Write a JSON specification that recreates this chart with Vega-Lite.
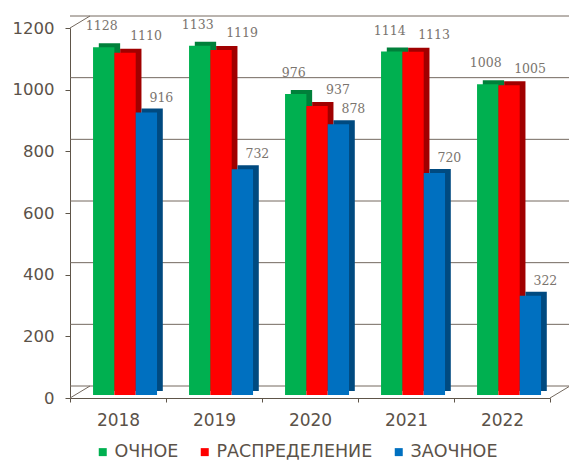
{
  "$schema": "https://vega.github.io/schema/vega-lite/v6.json",
  "width": 480,
  "height": 370,
  "autosize": {"type": "none"},
  "padding": {"left": 70, "top": 28, "right": 19, "bottom": 63},
  "background": "white",
  "config": {
    "view": {"stroke": null},
    "font": "DejaVu Sans",
    "axis": {
      "domainColor": "#5e5549",
      "tickColor": "#5e5549",
      "labelColor": "#5b5249",
      "labelFont": "DejaVu Sans",
      "grid": false
    },
    "axisX": {"labelAngle": 0, "tickBand": "extent", "tickSize": 4, "labelPadding": 10, "labelFontSize": 17},
    "axisY": {"tickSize": 5, "labelPadding": 11, "labelFontSize": 16.5},
    "legend": {"labelFont": "DejaVu Sans"}
  },
  "datasets": {
    "bars": [
      {"year": "2018", "series": "ОЧНОЕ", "value": 1128},
      {"year": "2018", "series": "РАСПРЕДЕЛЕНИЕ", "value": 1110},
      {"year": "2018", "series": "ЗАОЧНОЕ", "value": 916},
      {"year": "2019", "series": "ОЧНОЕ", "value": 1133},
      {"year": "2019", "series": "РАСПРЕДЕЛЕНИЕ", "value": 1119},
      {"year": "2019", "series": "ЗАОЧНОЕ", "value": 732},
      {"year": "2020", "series": "ОЧНОЕ", "value": 976},
      {"year": "2020", "series": "РАСПРЕДЕЛЕНИЕ", "value": 937},
      {"year": "2020", "series": "ЗАОЧНОЕ", "value": 878},
      {"year": "2021", "series": "ОЧНОЕ", "value": 1114},
      {"year": "2021", "series": "РАСПРЕДЕЛЕНИЕ", "value": 1113},
      {"year": "2021", "series": "ЗАОЧНОЕ", "value": 720},
      {"year": "2022", "series": "ОЧНОЕ", "value": 1008},
      {"year": "2022", "series": "РАСПРЕДЕЛЕНИЕ", "value": 1005},
      {"year": "2022", "series": "ЗАОЧНОЕ", "value": 322}
    ],
    "grid": [{"v": 0}, {"v": 200}, {"v": 400}, {"v": 600}, {"v": 800}, {"v": 1000}, {"v": 1200}],
    "leftEdges": [{"year": "2018", "v": 0}, {"year": "2018", "v": 1200}],
    "rightEdges": [{"year": "2022", "v": 0}]
  },
  "layer": [
    {
      "data": {"name": "grid"},
      "mark": {"type": "rule", "color": "#74695f", "strokeWidth": 1, "xOffset": 20, "yOffset": -12},
      "encoding": {
        "y": {
          "field": "v", "type": "quantitative", "title": null,
          "scale": {"domain": [0, 1200], "nice": false, "zero": true},
          "axis": {"values": [0, 200, 400, 600, 800, 1000, 1200], "format": "d"}
        }
      }
    },
    {
      "data": {"name": "leftEdges"},
      "mark": {"type": "rule", "color": "#74695f", "strokeWidth": 1, "x2Offset": 20, "y2Offset": -12},
      "encoding": {
        "x": {"field": "year", "type": "nominal", "bandPosition": 0, "title": null},
        "x2": {"field": "year", "bandPosition": 0},
        "y": {"field": "v", "type": "quantitative", "title": null, "axis": {"values": [0, 200, 400, 600, 800, 1000, 1200], "format": "d"}},
        "y2": {"field": "v"}
      }
    },
    {
      "data": {"name": "rightEdges"},
      "mark": {"type": "rule", "color": "#74695f", "strokeWidth": 1, "x2Offset": 20, "y2Offset": -12},
      "encoding": {
        "x": {"field": "year", "type": "nominal", "bandPosition": 1, "title": null},
        "x2": {"field": "year", "bandPosition": 1},
        "y": {"field": "v", "type": "quantitative", "title": null, "axis": {"values": [0, 200, 400, 600, 800, 1000, 1200], "format": "d"}},
        "y2": {"field": "v"}
      }
    },
    {
      "data": {"name": "bars"},
      "mark": {"type": "bar", "yOffset": -7},
      "encoding": {
        "x": {"field": "year", "type": "nominal", "title": null, "scale": {"paddingInner": 0, "paddingOuter": 0}},
        "xOffset": {
          "field": "series", "type": "nominal",
          "scale": {"type": "band", "domain": ["ОЧНОЕ", "РАСПРЕДЕЛЕНИЕ", "ЗАОЧНОЕ"], "paddingInner": 0, "paddingOuter": 0.75, "align": 0.9}
        },
        "y": {"field": "value", "type": "quantitative", "title": null, "axis": {"values": [0, 200, 400, 600, 800, 1000, 1200], "format": "d"}},
        "color": {
          "field": "series", "type": "nominal", "legend": null,
          "scale": {"domain": ["ОЧНОЕ", "РАСПРЕДЕЛЕНИЕ", "ЗАОЧНОЕ"], "range": ["#00803a", "#a00000", "#004a80"]}
        }
      }
    },
    {
      "data": {"name": "bars"},
      "mark": {"type": "bar", "yOffset": -3},
      "encoding": {
        "x": {"field": "year", "type": "nominal", "title": null},
        "xOffset": {
          "field": "series", "type": "nominal",
          "scale": {"type": "band", "domain": ["ОЧНОЕ", "РАСПРЕДЕЛЕНИЕ", "ЗАОЧНОЕ"], "paddingInner": 0, "paddingOuter": 0.75, "align": 0.72}
        },
        "y": {"field": "value", "type": "quantitative", "title": null, "axis": {"values": [0, 200, 400, 600, 800, 1000, 1200], "format": "d"}},
        "color": {
          "field": "series", "type": "nominal", "title": null,
          "scale": {"domain": ["ОЧНОЕ", "РАСПРЕДЕЛЕНИЕ", "ЗАОЧНОЕ"], "range": ["#00b050", "#ff0000", "#0070c0"]},
          "legend": {
            "orient": "none", "direction": "horizontal", "legendX": 24, "legendY": 415,
            "symbolType": "square", "symbolSize": 64, "symbolStrokeWidth": 0,
            "labelFontSize": 17.5, "labelColor": "#5b5249", "labelOffset": 3, "columnPadding": 17, "padding": 0
          }
        }
      }
    },
    {
      "data": {"name": "bars"},
      "transform": [{"filter": "datum.series === 'ОЧНОЕ'"}],
      "mark": {"type": "text", "font": "DejaVu Serif", "fontSize": 12.5, "color": "#7a746e", "dx": -2, "dy": -24, "baseline": "middle"},
      "encoding": {
        "x": {"field": "year", "type": "nominal", "title": null},
        "xOffset": {
          "field": "series", "type": "nominal",
          "scale": {"type": "band", "domain": ["ОЧНОЕ", "РАСПРЕДЕЛЕНИЕ", "ЗАОЧНОЕ"], "paddingInner": 0, "paddingOuter": 0.75, "align": 0.72}
        },
        "y": {"field": "value", "type": "quantitative", "title": null, "axis": {"values": [0, 200, 400, 600, 800, 1000, 1200], "format": "d"}},
        "text": {"field": "value", "type": "quantitative", "format": "d"}
      }
    },
    {
      "data": {"name": "bars"},
      "transform": [{"filter": "datum.series === 'РАСПРЕДЕЛЕНИЕ'"}],
      "mark": {"type": "text", "font": "DejaVu Serif", "fontSize": 12.5, "color": "#7a746e", "dx": 21, "dy": -19.5, "baseline": "middle"},
      "encoding": {
        "x": {"field": "year", "type": "nominal", "title": null},
        "xOffset": {
          "field": "series", "type": "nominal",
          "scale": {"type": "band", "domain": ["ОЧНОЕ", "РАСПРЕДЕЛЕНИЕ", "ЗАОЧНОЕ"], "paddingInner": 0, "paddingOuter": 0.75, "align": 0.72}
        },
        "y": {"field": "value", "type": "quantitative", "title": null, "axis": {"values": [0, 200, 400, 600, 800, 1000, 1200], "format": "d"}},
        "text": {"field": "value", "type": "quantitative", "format": "d"}
      }
    },
    {
      "data": {"name": "bars"},
      "transform": [{"filter": "datum.series === 'ЗАОЧНОЕ'"}],
      "mark": {"type": "text", "font": "DejaVu Serif", "fontSize": 12.5, "color": "#7a746e", "dx": 15, "dy": -18, "baseline": "middle"},
      "encoding": {
        "x": {"field": "year", "type": "nominal", "title": null},
        "xOffset": {
          "field": "series", "type": "nominal",
          "scale": {"type": "band", "domain": ["ОЧНОЕ", "РАСПРЕДЕЛЕНИЕ", "ЗАОЧНОЕ"], "paddingInner": 0, "paddingOuter": 0.75, "align": 0.72}
        },
        "y": {"field": "value", "type": "quantitative", "title": null, "axis": {"values": [0, 200, 400, 600, 800, 1000, 1200], "format": "d"}},
        "text": {"field": "value", "type": "quantitative", "format": "d"}
      }
    }
  ],
  "resolve": {"scale": {"color": "independent", "xOffset": "independent"}}
}
